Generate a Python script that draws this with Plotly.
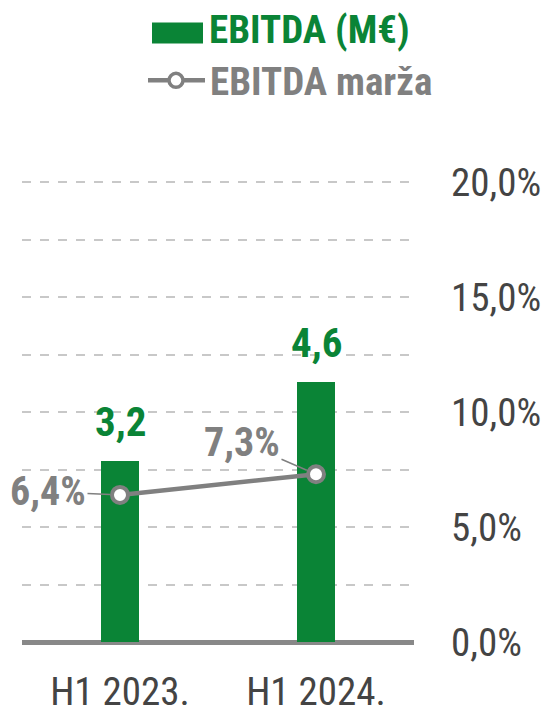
import plotly.graph_objects as go

# data
categories = ["H1 2023.", "H1 2024."]
ebitda = [3.2, 4.6]          # M€
margin = [6.4, 7.3]          # %
tick_vals = [0, 2.5, 5, 7.5, 10, 12.5, 15, 17.5, 20]
tick_text = ["0,0%", "", "5,0%", "", "10,0%", "", "15,0%", "", "20,0%"]
legend_names = ["EBITDA (M€)", "EBITDA marža"]

GREEN = "#0a8436"
GREY = "#808080"
FONT = "Roboto Condensed, Roboto, sans-serif"

# the page puts the figure 8px in from the top-left corner
OFF = 8
W, H = 550 - OFF, 711 - OFF
Y2_TOP = 20.1
PX_PER_PCT = 23.0
PX_PER_MEUR = 56.65
ML, MR, MB = 22 - OFF, 136, 69
PH = Y2_TOP * PX_PER_PCT
MT = H - MB - PH
PW = W - ML - MR


def px(x):
    return (x - OFF - ML) / PW


def py(y):
    return (H - MB - (y - OFF)) / PH


fig = go.Figure()

fig.add_trace(go.Bar(
    x=categories, y=ebitda, width=0.19,
    marker=dict(color=GREEN, line=dict(width=0)),
    name=legend_names[0], showlegend=False, yaxis="y",
))

fig.add_trace(go.Scatter(
    x=categories, y=margin, mode="lines+markers",
    line=dict(color=GREY, width=4.5),
    marker=dict(symbol="circle", size=16, color="white", line=dict(color=GREY, width=4)),
    name=legend_names[1], showlegend=False, yaxis="y2",
))

# labels above bars
for c, v in zip(categories, ebitda):
    fig.add_annotation(
        x=c, y=v, xref="x", yref="y", text="<b>%s</b>" % str(v).replace(".", ","),
        showarrow=False, yanchor="bottom", yshift=13,
        font=dict(family=FONT, size=41, color=GREEN),
    )

# margin labels with leader lines
offsets = [(-72, -3), (-74, -32)]
for c, v, (ax, ay) in zip(categories, margin, offsets):
    fig.add_annotation(
        x=c, y=v, xref="x", yref="y2", text="<b>%s%%</b>" % str(v).replace(".", ","),
        showarrow=True, arrowhead=0, arrowwidth=1.5, arrowcolor=GREY,
        ax=ax, ay=ay, standoff=10,
        font=dict(family=FONT, size=40, color=GREY),
    )

# legend (drawn by hand so the symbols keep their size)
shapes = [
    dict(type="rect", xref="paper", yref="paper",
         x0=px(152), x1=px(203), y0=py(43), y1=py(22),
         fillcolor=GREEN, line=dict(width=0)),
    dict(type="line", xref="paper", yref="paper",
         x0=px(148), x1=px(205), y0=py(80), y1=py(80),
         line=dict(color=GREY, width=4.5)),
    dict(type="circle", xref="paper", yref="paper",
         x0=px(169), x1=px(183), y0=py(87), y1=py(73),
         fillcolor="white", line=dict(color=GREY, width=3.5)),
]
fig.add_annotation(x=px(207), y=py(30), xref="paper", yref="paper",
                   xanchor="left", yanchor="middle", showarrow=False,
                   text="<b>%s</b>" % legend_names[0],
                   font=dict(family=FONT, size=39, color=GREEN))
fig.add_annotation(x=px(208), y=py(82), xref="paper", yref="paper",
                   xanchor="left", yanchor="middle", showarrow=False,
                   text="<b>%s</b>" % legend_names[1],
                   font=dict(family=FONT, size=39, color=GREY))

fig.update_layout(
    width=W, height=H,
    margin=dict(l=ML, r=MR, t=MT, b=MB, autoexpand=False),
    paper_bgcolor="white", plot_bgcolor="white",
    font=dict(family=FONT, color="#444444"),
    showlegend=False,
    shapes=shapes,
    bargap=0,
    xaxis=dict(
        range=[-0.5, 1.5], showgrid=False, zeroline=False, showline=False,
        ticks="", tickfont=dict(size=39, color="#444444"), ticklabelstandoff=23,
        automargin=False,
    ),
    yaxis=dict(
        range=[0, PH / PX_PER_MEUR], visible=False, showgrid=False, zeroline=False,
        automargin=False,
    ),
    yaxis2=dict(
        overlaying="y", side="right", range=[0, Y2_TOP],
        tickvals=tick_vals, ticktext=tick_text,
        showgrid=True, gridcolor="#c8c8c8", griddash="dash", gridwidth=2,
        zeroline=True, zerolinecolor="#888888", zerolinewidth=5,
        showline=False, ticks="", ticklabelstandoff=36,
        tickfont=dict(size=39, color="#444444"), automargin=False,
    ),
)

fig.write_html("out.html")
